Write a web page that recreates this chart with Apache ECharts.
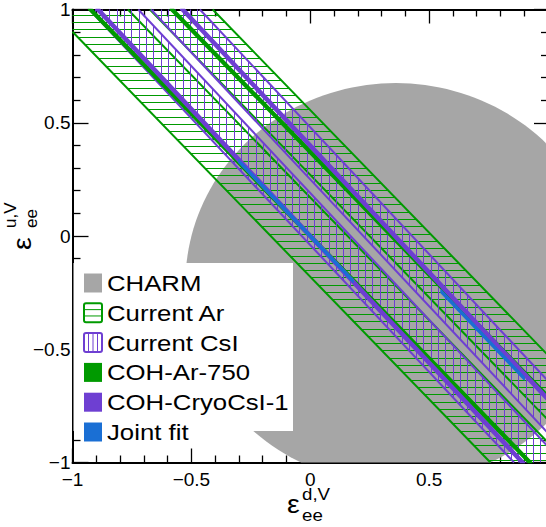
<!DOCTYPE html>
<html>
<head>
<meta charset="utf-8">
<script src="https://cdn.jsdelivr.net/npm/echarts@6/dist/echarts.min.js"></script>
<style>
  html, body { margin: 0; padding: 0; background: #fff; }
  #chart { width: 546px; height: 527px; }
</style>
</head>
<body>
<div id="chart"></div>
<script>
// ---- axis ranges and tick labels ----
const dRange = [-1, 1];          // epsilon^{d,V}_{ee}
const uRange = [-1, 1];          // epsilon^{u,V}_{ee}
const majorStep = 0.5;

// ---- CHARM allowed region (disc in the (d,u) plane) ----
const charmCenter = [0.36, -0.21];
const charmRadius = 0.885;

// ---- band slopes: eps_u = c - k * eps_d ----
const slopeAr = 1.082;
const slopeCsI = 1.12;

// ---- bands as [c_low, c_high] (intercept at eps_d = 0) ----
const currentAr  = [[-0.180, 0.170], [0.270, 0.556]];
const currentCsI = [[-0.040, 0.190], [0.250, 0.480]];
const cohAr750   = [[-0.009, 0.009], [0.362, 0.380]];
const cohCryoCsI = [[-0.010, 0.010], [0.389, 0.409]];
// joint fit: [c_low, c_high, d_from, d_to], slope between the two detectors
const slopeJoint = 1.10;
const jointFit   = [[-0.006, 0.006, -0.30, 0.18], [0.355, 0.367, 0.55, 0.90]];

// ---- legend entries ----
const legendLabels = ['CHARM', 'Current Ar', 'Current CsI', 'COH-Ar-750', 'COH-CryoCsI-1', 'Joint fit'];

// ---- colours ----
const cGray = '#a6a6a6';
const cGreen = '#009a00';
const cPurple = '#6e3fd2';
const cBlue = '#1a6fd4';
const HATCH = 7.3;

// ---------- geometry helpers ----------
function clipHalf(poly, f) {
  const out = [];
  for (let i = 0; i < poly.length; i++) {
    const a = poly[i], b = poly[(i + 1) % poly.length];
    const fa = f(a), fb = f(b);
    if (fa >= 0) out.push(a);
    if ((fa >= 0) !== (fb >= 0)) {
      const t = fa / (fa - fb);
      out.push([a[0] + t * (b[0] - a[0]), a[1] + t * (b[1] - a[1])]);
    }
  }
  return out;
}
function clipFrame(poly) {
  poly = clipHalf(poly, p => p[0] - dRange[0]);
  poly = clipHalf(poly, p => dRange[1] - p[0]);
  poly = clipHalf(poly, p => p[1] - uRange[0]);
  poly = clipHalf(poly, p => uRange[1] - p[1]);
  return poly;
}
function framePoly() {
  return [[dRange[0], uRange[0]], [dRange[1], uRange[0]], [dRange[1], uRange[1]], [dRange[0], uRange[1]]];
}
function bandPoly(lo, hi, k, dFrom, dTo) {
  let poly = framePoly();
  poly = clipHalf(poly, p => p[1] + k * p[0] - lo);
  poly = clipHalf(poly, p => hi - p[1] - k * p[0]);
  if (dFrom !== undefined) {
    poly = clipHalf(poly, p => p[0] - dFrom);
    poly = clipHalf(poly, p => dTo - p[0]);
  }
  return poly;
}
function edgeLine(c, k) {
  let a = Math.max(dRange[0], Math.min((c - uRange[1]) / k, (c - uRange[0]) / k));
  let b = Math.min(dRange[1], Math.max((c - uRange[1]) / k, (c - uRange[0]) / k));
  if (a >= b) return null;
  return [[a, c - k * a], [b, c - k * b]];
}
// range where a scan line crosses a convex pixel polygon
function scan(pts, v, axis) {
  const o = 1 - axis;
  let lo = Infinity, hi = -Infinity;
  for (let i = 0; i < pts.length; i++) {
    const a = pts[i], b = pts[(i + 1) % pts.length];
    if ((a[axis] - v) * (b[axis] - v) <= 0 && a[axis] !== b[axis]) {
      const x = a[o] + (v - a[axis]) / (b[axis] - a[axis]) * (b[o] - a[o]);
      lo = Math.min(lo, x); hi = Math.max(hi, x);
    }
  }
  return hi > lo ? [lo, hi] : null;
}

// ---------- render functions ----------
function hatchedBand(k, color, dir) {
  return function (params, api) {
    const lo = api.value(0), hi = api.value(1);
    const pts = bandPoly(lo, hi, k).map(p => api.coord(p));
    const children = [];
    if (pts.length >= 3) {
      const axis = dir === 'h' ? 1 : 0;
      const vals = pts.map(p => p[axis]);
      const vmin = Math.min(...vals), vmax = Math.max(...vals);
      for (let v = Math.floor(vmin / HATCH) * HATCH + 0.5; v <= vmax; v += HATCH) {
        const r = scan(pts, v, axis);
        if (!r) continue;
        const vv = Math.round(v - 0.5) + 0.5;
        const shape = axis === 1 ? { x1: r[0], y1: vv, x2: r[1], y2: vv } : { x1: vv, y1: r[0], x2: vv, y2: r[1] };
        children.push({ type: 'line', shape, style: { stroke: color, lineWidth: 1 } });
      }
    }
    [lo, hi].forEach(c => {
      const seg = edgeLine(c, k);
      if (!seg) return;
      const p1 = api.coord(seg[0]), p2 = api.coord(seg[1]);
      children.push({ type: 'line', shape: { x1: p1[0], y1: p1[1], x2: p2[0], y2: p2[1] }, style: { stroke: color, lineWidth: 2 } });
    });
    return { type: 'group', children };
  };
}
function solidBand(k, color) {
  return function (params, api) {
    const lo = api.value(0), hi = api.value(1);
    const dFrom = api.value(2), dTo = api.value(3);
    const poly = isNaN(dFrom) ? bandPoly(lo, hi, k) : bandPoly(lo, hi, k, dFrom, dTo);
    const pts = poly.map(p => api.coord(p));
    return {
      type: 'polygon', shape: { points: pts },
      style: { fill: color, stroke: color, lineWidth: 1.5, lineJoin: 'round' }
    };
  };
}
function charmItem(params, api) {
  const n = 180, ring = [];
  for (let i = 0; i < n; i++) {
    const t = 2 * Math.PI * i / n;
    ring.push([charmCenter[0] + charmRadius * Math.cos(t), charmCenter[1] + charmRadius * Math.sin(t)]);
  }
  const pts = clipFrame(ring).map(p => api.coord(p));
  return { type: 'polygon', shape: { points: pts }, style: { fill: cGray } };
}

// ---------- axes ----------
const fmt = v => (v < 0 ? '\u2212' : '') + String(Math.abs(v));
const lbl = { color: '#000', fontFamily: 'Liberation Sans, Arial, sans-serif', fontSize: 19 };
function axisCommon(extra) {
  return Object.assign({
    type: 'value', interval: majorStep,
    axisLine: { show: true, onZero: false, lineStyle: { color: '#000', width: 2 } },
    axisTick: { show: true, inside: true, length: 14, lineStyle: { color: '#000', width: 1.3 } },
    minorTick: { show: true, splitNumber: 5, length: 7, lineStyle: { color: '#000', width: 1.3 } },
    splitLine: { show: false }, minorSplitLine: { show: false }
  }, extra);
}

const option = {
  animation: false,
  backgroundColor: '#fff',
  grid: { left: 72.5, right: -2, top: 9.5, bottom: 64.5, containLabel: false, outerBoundsMode: 'none' },
  xAxis: [
    axisCommon({ min: dRange[0], max: dRange[1], position: 'bottom',
      axisLabel: Object.assign({ margin: 7, formatter: v => (v >= dRange[1] ? '' : fmt(v)) }, lbl) }),
    axisCommon({ min: dRange[0], max: dRange[1], position: 'top', axisLabel: { show: false } })
  ],
  yAxis: [
    axisCommon({ min: uRange[0], max: uRange[1], position: 'left',
      axisTick: { show: true, inside: true, length: 16, lineStyle: { color: '#000', width: 1.3 } },
      minorTick: { show: true, splitNumber: 5, length: 8, lineStyle: { color: '#000', width: 1.3 } },
      axisLabel: Object.assign({ margin: 2, formatter: fmt, verticalAlign: 'middle', padding: [6, 0, 0, 0] }, lbl) }),
    axisCommon({ min: uRange[0], max: uRange[1], position: 'right', axisLabel: { show: false } })
  ],
  series: [
    { type: 'custom', name: 'CHARM', renderItem: charmItem, data: [[charmCenter[0], charmCenter[1]]], silent: true },
    { type: 'custom', name: 'Current Ar', renderItem: hatchedBand(slopeAr, cGreen, 'h'), data: currentAr, silent: true },
    { type: 'custom', name: 'Current CsI', renderItem: hatchedBand(slopeCsI, cPurple, 'v'), data: currentCsI, silent: true },
    { type: 'custom', name: 'COH-Ar-750', renderItem: solidBand(slopeAr, cGreen), data: cohAr750, silent: true },
    { type: 'custom', name: 'COH-CryoCsI-1', renderItem: solidBand(slopeCsI, cPurple), data: cohCryoCsI, silent: true },
    { type: 'custom', name: 'Joint fit', renderItem: solidBand(slopeJoint, cBlue), data: jointFit, silent: true }
  ],
  graphic: []
};

// ---------- legend (white box, markers, labels) ----------
const legendTop = 283, legendStep = 29.8;
const legendFont = '23px "Liberation Sans", Arial, sans-serif';
const g = [{ type: 'rect', shape: { x: 73.5, y: 263, width: 219.5, height: 168 }, style: { fill: '#fff' }, z: 10 }];
function marker(i, cy) {
  const x = 84, y = cy - 9.5, w = 18, h = 19;
  const items = [];
  if (i === 0) items.push({ type: 'rect', shape: { x, y, width: w, height: h }, style: { fill: cGray } });
  if (i === 3) items.push({ type: 'rect', shape: { x, y, width: w, height: h }, style: { fill: cGreen } });
  if (i === 4) items.push({ type: 'rect', shape: { x, y, width: w, height: h }, style: { fill: cPurple } });
  if (i === 5) items.push({ type: 'rect', shape: { x, y, width: w, height: h }, style: { fill: cBlue } });
  if (i === 1) {
    for (let k = 1; k <= 2; k++) {
      const yy = y + k * h / 3;
      items.push({ type: 'line', shape: { x1: x, y1: yy, x2: x + w, y2: yy }, style: { stroke: cGreen, lineWidth: 1 } });
    }
    items.push({ type: 'rect', shape: { x, y, width: w, height: h, r: 2 }, style: { fill: null, stroke: cGreen, lineWidth: 2 } });
  }
  if (i === 2) {
    for (let k = 1; k <= 3; k++) {
      const xx = x + k * w / 4;
      items.push({ type: 'line', shape: { x1: xx, y1: y, x2: xx, y2: y + h }, style: { stroke: cPurple, lineWidth: 1 } });
    }
    items.push({ type: 'rect', shape: { x, y, width: w, height: h, r: 2 }, style: { fill: null, stroke: cPurple, lineWidth: 2 } });
  }
  return items;
}
legendLabels.forEach((name, i) => {
  const cy = legendTop + i * legendStep;
  marker(i, cy).forEach(m => { m.z = 11; g.push(m); });
  g.push({ type: 'text', x: 107, y: cy, scaleX: 1.12, z: 11,
    style: { text: name, font: legendFont, fill: '#000', textVerticalAlign: 'middle', verticalAlign: 'middle' } });
});

// ---------- axis titles ----------
const titleFont = '26px "Liberation Sans", Arial, sans-serif';
const smallFont = '17px "Liberation Sans", Arial, sans-serif';
g.push({ type: 'text', x: 287, y: 504, scaleX: 1.1, style: { text: '\u03b5', font: titleFont, fill: '#000', verticalAlign: 'middle' } });
g.push({ type: 'text', x: 302, y: 494, scaleX: 1.1, style: { text: 'd,V', font: smallFont, fill: '#000', verticalAlign: 'middle' } });
g.push({ type: 'text', x: 302, y: 515, scaleX: 1.1, style: { text: 'ee', font: smallFont, fill: '#000', verticalAlign: 'middle' } });
g.push({ type: 'text', x: 22, y: 250, rotation: Math.PI / 2, scaleX: 1.1, style: { text: '\u03b5', font: titleFont, fill: '#000', verticalAlign: 'middle' } });
g.push({ type: 'text', x: 10, y: 228, rotation: Math.PI / 2, style: { text: 'u,V', font: smallFont, fill: '#000', verticalAlign: 'middle' } });
g.push({ type: 'text', x: 31, y: 228, rotation: Math.PI / 2, style: { text: 'ee', font: smallFont, fill: '#000', verticalAlign: 'middle' } });
option.graphic = g;

const chart = echarts.init(document.getElementById('chart'), null, { renderer: 'svg', width: 546, height: 527 });
chart.setOption(option);
</script>
</body>
</html>
